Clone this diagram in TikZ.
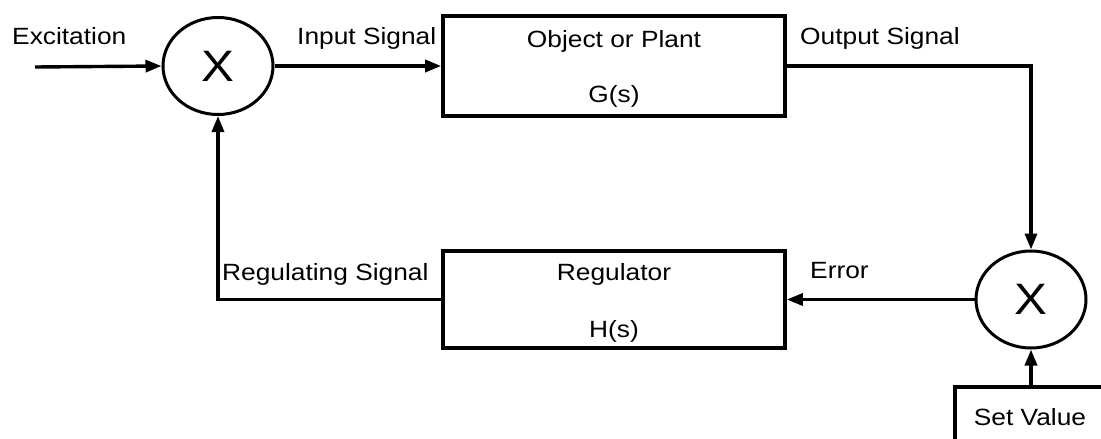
\documentclass[tikz,border=0pt]{standalone}
\usepackage{fontspec}
\setmainfont[FakeStretch=1.12]{Liberation Sans}
\usetikzlibrary{arrows.meta,shapes.geometric}
\begin{document}
\begin{tikzpicture}[x=1pt,y=-1pt,
  lbl/.style={font=\fontsize{23.5}{28}\selectfont, inner sep=0pt, anchor=base west},
  ctr/.style={font=\fontsize{23.5}{28}\selectfont, inner sep=0pt, anchor=base},
  blockbox/.style={draw, line width=3.6pt, minimum width=342pt, inner sep=0pt},
  mixer/.style={draw, ellipse, line width=3pt, minimum width=110pt, minimum height=97pt,
                inner sep=0pt, font=\fontsize{44}{50}\selectfont},
  sig/.style={line width=3.4pt, -{Triangle[length=16pt,width=12pt]}},
  wire/.style={line width=3.4pt}]
\clip (0,0) rectangle (1101,439);
\fill[white] (0,0) rectangle (1101,439);

% summing points
\node[mixer] (m1) at (218,66) {X};
\node[mixer] (m2) at (1031,299.5) {X};

% plant and regulator blocks
\node[blockbox, minimum height=100pt] (plant) at (614,66) {};
\node[blockbox, minimum height=97pt] (reg) at (614,299.5) {};
\node[ctr] (plantname) at (614,47) {Object or Plant};
\node[ctr] (plantfn) at (614,102) {G(s)};
\node[ctr] (regname) at (614,280) {Regulator};
\node[ctr] (regfn) at (614,337) {H(s)};

% set value block, running past the lower right edge
\node[draw, line width=3.6pt, minimum width=152pt, minimum height=80pt, inner sep=0pt]
  (setv) at (1031,427) {};
\node[ctr] (setvtext) at (1030,425) {Set Value};

% signal labels
\node[lbl] (exc) at (12,45) {Excitation};
\node[lbl] (insig) at (297,45) {Input Signal};
\node[lbl] (outsig) at (800,45) {Output Signal};
\node[lbl] (regsig) at (222,280) {Regulating Signal};
\node[lbl] (err) at (810,278) {Error};

% connectors
\coordinate (src) at (35,67);
\draw[sig] (src) -- (m1.west);
\draw[sig] (m1.east) -- (plant.west);
\draw[sig] (plant.east) -| (m2.north);
\draw[sig] (m2.west) -- (reg.east);
\draw[sig] (reg.west) -| (m1.south);
\draw[sig] (setv.north) -- (m2.south);
\end{tikzpicture}
\end{document}
